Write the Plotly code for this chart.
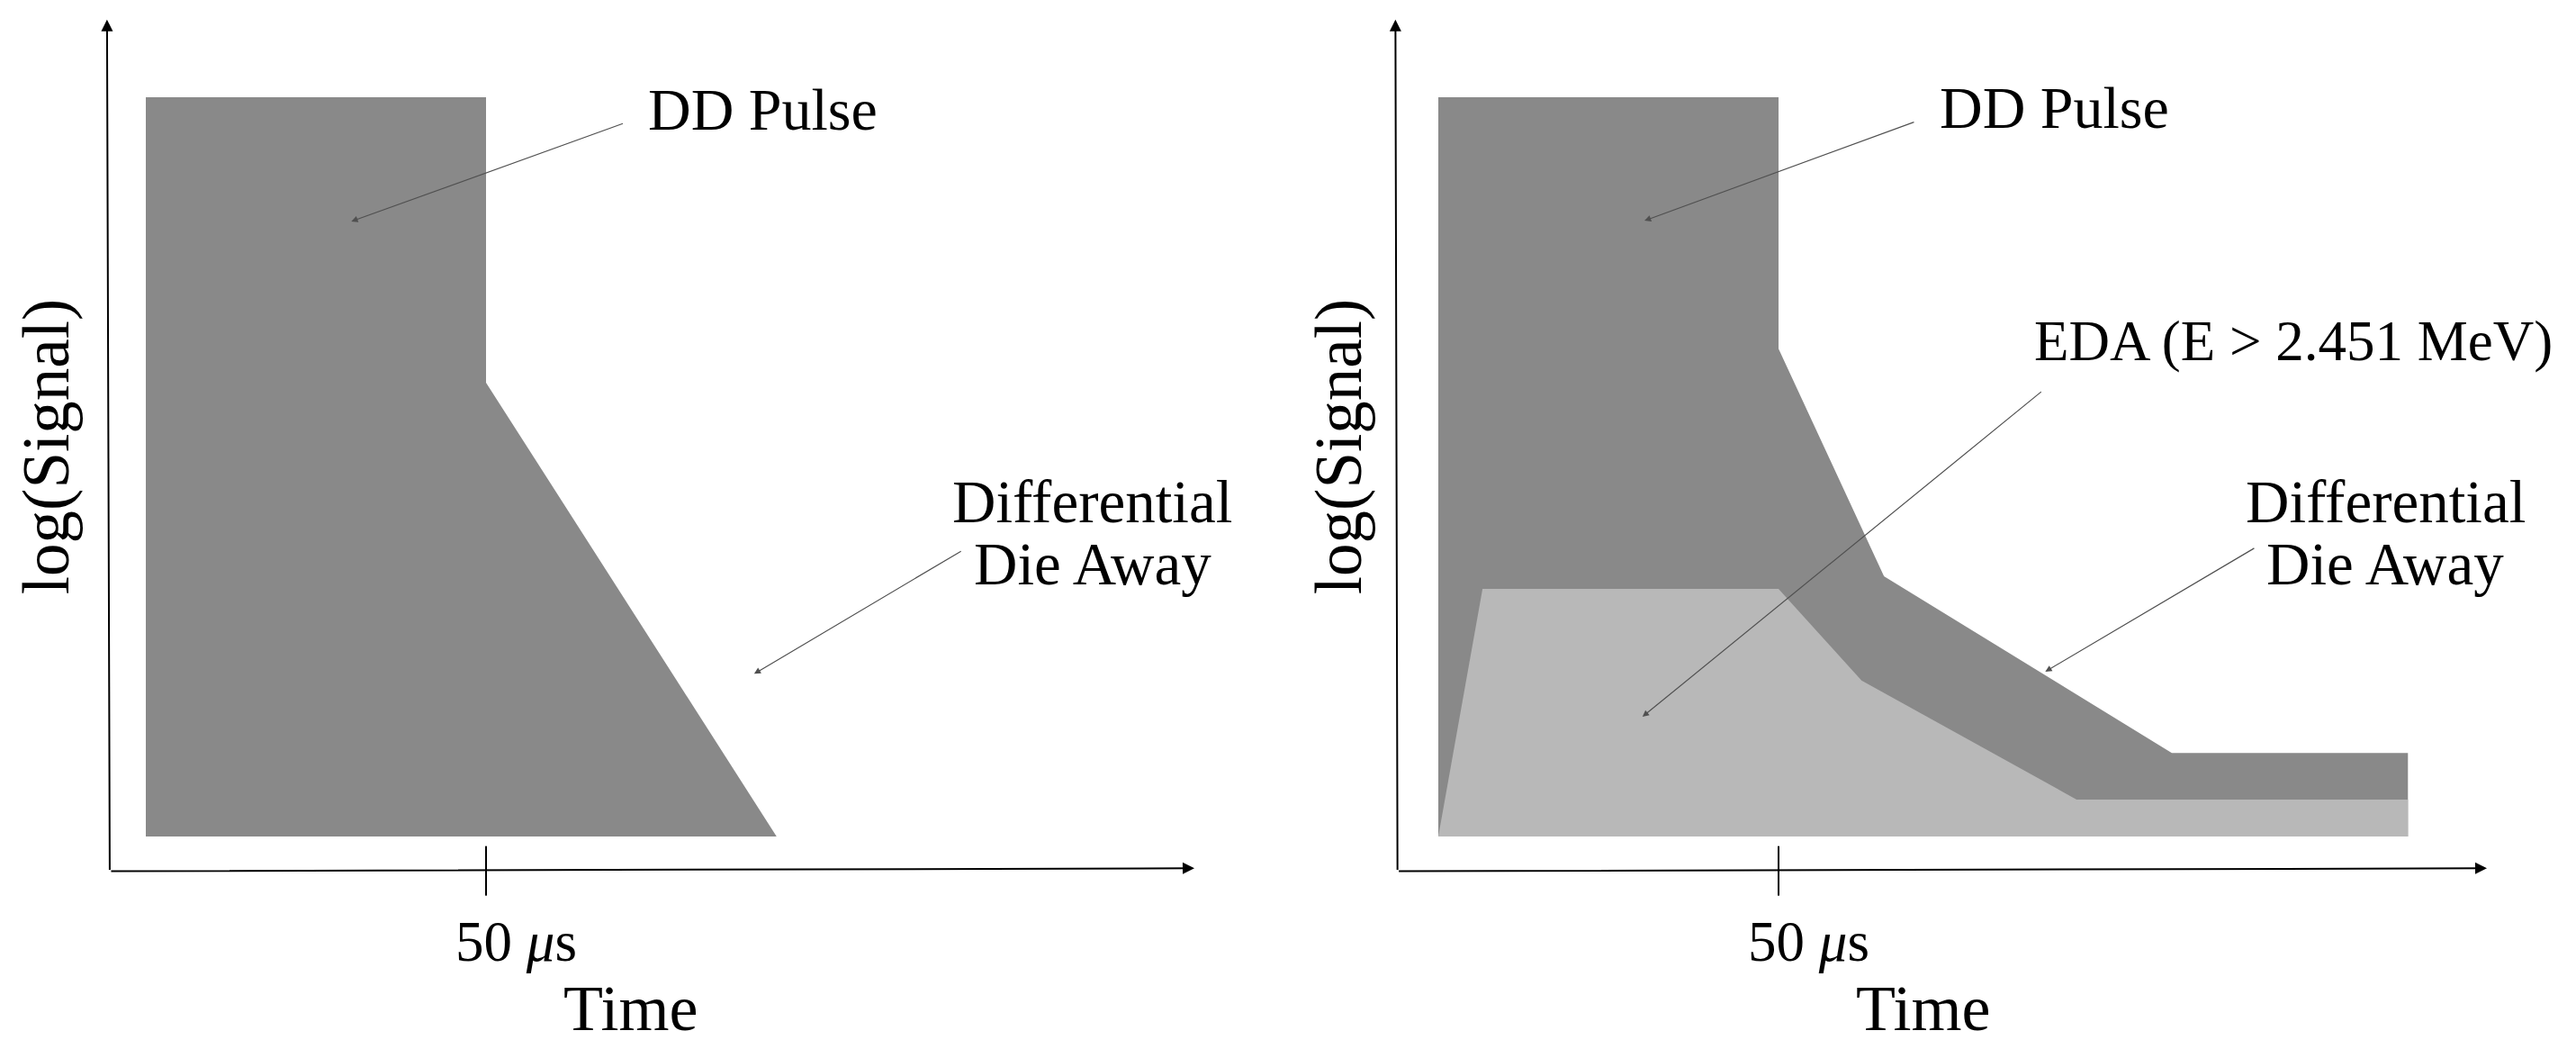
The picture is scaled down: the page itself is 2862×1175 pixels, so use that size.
import plotly.graph_objects as go

# ---------------------------------------------------------------------------
# Data (time in us-like units, 50 = the marked tick; signal in log units)
# ---------------------------------------------------------------------------

# left panel: DD pulse followed by the differential die-away
left_time = [0, 50, 50, 92.7, 0]
left_signal = [10, 10, 6.14, 0, 0]

# right panel: same pulse, die-away with a slow tail
right_time = [0, 50, 50, 65.5, 107.8, 142.5, 142.5, 0]
right_signal = [10, 10, 6.60, 3.52, 1.13, 1.13, 0, 0]

# right panel: EDA (E > 2.451 MeV) component
eda_time = [0, 6.5, 50, 62.2, 93.8, 142.5, 142.5]
eda_signal = [0, 3.35, 3.35, 2.11, 0.50, 0.50, 0]

tick_time = 50
tick_label = '50 <i>μ</i>s'
x_title = 'Time'
y_title = 'log(Signal)'

DARK = '#898989'
LIGHT = '#b8b8b8'
FONT = 'Liberation Serif'

# labels per panel: (text, t, s, size)
left_labels = [
    ('DD Pulse', 90.7, 9.84, 66),
    ('Differential', 139.1, 4.53, 67),
    ('Die Away', 139.1, 3.69, 67),
]
right_labels = [
    ('DD Pulse', 90.6, 9.86, 66),
    ('EDA (E > 2.451 MeV)', 125.6, 6.70, 63),
    ('Differential', 139.2, 4.53, 67),
    ('Die Away', 139.2, 3.69, 67),
]

# leader lines: (tail t, tail s, head t, head s)
left_leaders = [
    (70.3, 9.65, 30.2, 8.32),
    (120.0, 3.87, 89.4, 2.20),
]
right_leaders = [
    (70.1, 9.67, 30.3, 8.33),
    (88.8, 6.03, 30.0, 1.62),
    (120.1, 3.91, 89.2, 2.23),
]


def _panel(fig, xref, yref, polys, labels, leaders, yaxis_t):
    for t, s, color in polys:
        fig.add_trace(go.Scatter(
            x=t, y=s, fill='toself', fillcolor=color, mode='none',
            hoverinfo='skip', xaxis=xref, yaxis=yref,
        ))

    # 50 us tick
    fig.add_trace(go.Scatter(
        x=[tick_time, tick_time], y=[-0.13, -0.80], mode='lines',
        line=dict(color='black', width=2), hoverinfo='skip',
        xaxis=xref, yaxis=yref,
    ))

    ann = []
    # axes as arrows
    ann.append(dict(
        x=yaxis_t[1], y=11.05, ax=yaxis_t[0], ay=-0.47,
        xref=xref, yref=yref, axref=xref, ayref=yref,
        showarrow=True, arrowhead=2, arrowsize=1.3, arrowwidth=2,
        arrowcolor='black', text='', standoff=0,
    ))
    ann.append(dict(
        x=154.1, y=-0.43, ax=yaxis_t[0], ay=-0.47,
        xref=xref, yref=yref, axref=xref, ayref=yref,
        showarrow=True, arrowhead=2, arrowsize=1.3, arrowwidth=2,
        arrowcolor='black', text='', standoff=0,
    ))
    for t1, s1, t2, s2 in leaders:
        ann.append(dict(
            x=t2, y=s2, ax=t1, ay=s1,
            xref=xref, yref=yref, axref=xref, ayref=yref,
            showarrow=True, arrowhead=2, arrowsize=1.2, arrowwidth=1.2,
            arrowcolor='#505050', text='', standoff=0,
        ))
    for text, t, s, size in labels:
        ann.append(dict(
            x=t, y=s, xref=xref, yref=yref, text=text, showarrow=False,
            xanchor='center', yanchor='middle',
            font=dict(family=FONT, size=size, color='black'),
        ))
    ann.append(dict(
        x=54.4, y=-1.43, xref=xref, yref=yref, text=tick_label,
        showarrow=False, xanchor='center', yanchor='middle',
        font=dict(family=FONT, size=63, color='black'),
    ))
    ann.append(dict(
        x=71.2, y=-2.33, xref=xref, yref=yref, text=x_title,
        showarrow=False, xanchor='center', yanchor='middle',
        font=dict(family=FONT, size=72, color='black'),
    ))
    ann.append(dict(
        x=-14.7, y=5.27, xref=xref, yref=yref, text=y_title,
        showarrow=False, xanchor='center', yanchor='middle', textangle=-90,
        font=dict(family=FONT, size=73, color='black'),
    ))
    return ann


fig = go.Figure()
annotations = []
annotations += _panel(
    fig, 'x', 'y',
    [(left_time, left_signal, DARK)],
    left_labels, left_leaders, (-5.3, -5.7),
)
annotations += _panel(
    fig, 'x2', 'y2',
    [(right_time, right_signal, DARK), (eda_time, eda_signal, LIGHT)],
    right_labels, right_leaders, (-6.0, -6.3),
)

# the page body keeps an 8px margin, so the figure is 16px smaller
axis_off = dict(visible=False, showgrid=False, zeroline=False)
fig.update_layout(
    width=2846, height=1159,
    margin=dict(l=0, r=0, t=0, b=0),
    paper_bgcolor='white', plot_bgcolor='white',
    showlegend=False,
    xaxis=dict(domain=[0, 0.5], range=[-20.37, 167.86], **axis_off),
    yaxis=dict(domain=[0, 1], range=[-2.899, 11.218], **axis_off),
    xaxis2=dict(domain=[0.5, 1], range=[-22.09, 166.14], anchor='y2', **axis_off),
    yaxis2=dict(domain=[0, 1], range=[-2.899, 11.218], anchor='x2', **axis_off),
    annotations=annotations,
)
fig.write_html("out.html")
